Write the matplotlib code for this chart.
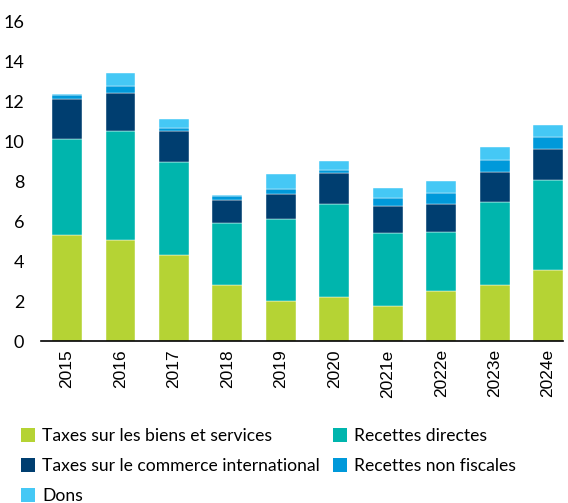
import matplotlib
matplotlib.use('Agg')
import matplotlib.pyplot as plt
import numpy as np
from matplotlib.patches import Patch

years = ['2015', '2016', '2017', '2018', '2019', '2020', '2021e', '2022e', '2023e', '2024e']
biens_services = [5.30, 5.03, 4.30, 2.80, 2.00, 2.22, 1.74, 2.50, 2.80, 3.57]
recettes_directes = [4.82, 5.47, 4.63, 3.08, 4.10, 4.65, 3.66, 2.97, 4.17, 4.46]
commerce_intl = [2.00, 1.92, 1.57, 1.15, 1.23, 1.55, 1.35, 1.40, 1.46, 1.55]
non_fiscales = [0.20, 0.35, 0.17, 0.20, 0.29, 0.15, 0.42, 0.55, 0.64, 0.64]
dons = [0.05, 0.65, 0.41, 0.05, 0.71, 0.45, 0.46, 0.58, 0.63, 0.60]

series = [biens_services, recettes_directes, commerce_intl, non_fiscales, dons]
labels = ['Taxes sur les biens et services', 'Recettes directes',
          'Taxes sur le commerce international', 'Recettes non fiscales', 'Dons']
colors = ['#B5D334', '#00B5AD', '#003E70', '#0099DA', '#45C8F5']

fig = plt.figure(figsize=(5.68, 5.03), dpi=100)
ax = fig.add_axes([41 / 568, 1 - 341 / 503, 522 / 568, 320 / 503])

x = np.arange(len(years))
bottom = np.zeros(len(years))
for vals, col in zip(series, colors):
    ax.bar(x, vals, width=0.56, bottom=bottom, color=col, edgecolor='white', linewidth=0.3)
    bottom += np.array(vals)

ax.set_ylim(0, 16)
ax.set_yticks(range(0, 17, 2))
ax.set_xlim(-0.487, 9.28)
ax.set_xticks(x)
ax.set_xticklabels(years, rotation=90, fontsize=12.5, family='Liberation Sans')
for t in ax.get_yticklabels():
    t.set_family('Lato')
    t.set_fontsize(13)
ax.tick_params(axis='both', length=0)
ax.tick_params(axis='y', pad=12)
ax.tick_params(axis='x', pad=6)
for s in ['top', 'right', 'left']:
    ax.spines[s].set_visible(False)
ax.spines['bottom'].set_linewidth(1.2)

# legende en deux colonnes, remplie ligne par ligne
handles = [Patch(facecolor=c, edgecolor='none') for c in colors]
order = [0, 2, 4, 1, 3]
fig.legend([handles[i] for i in order], [labels[i] for i in order], ncol=2,
           loc='upper left', bbox_to_anchor=(14 / 568, 1 - 421 / 503),
           frameon=False, prop={'family': 'Lato', 'size': 12.6},
           handlelength=0.8, handleheight=0.8, handletextpad=0.4,
           columnspacing=0.75, labelspacing=0.8, borderaxespad=0)

fig.savefig('out.png', dpi=100)
